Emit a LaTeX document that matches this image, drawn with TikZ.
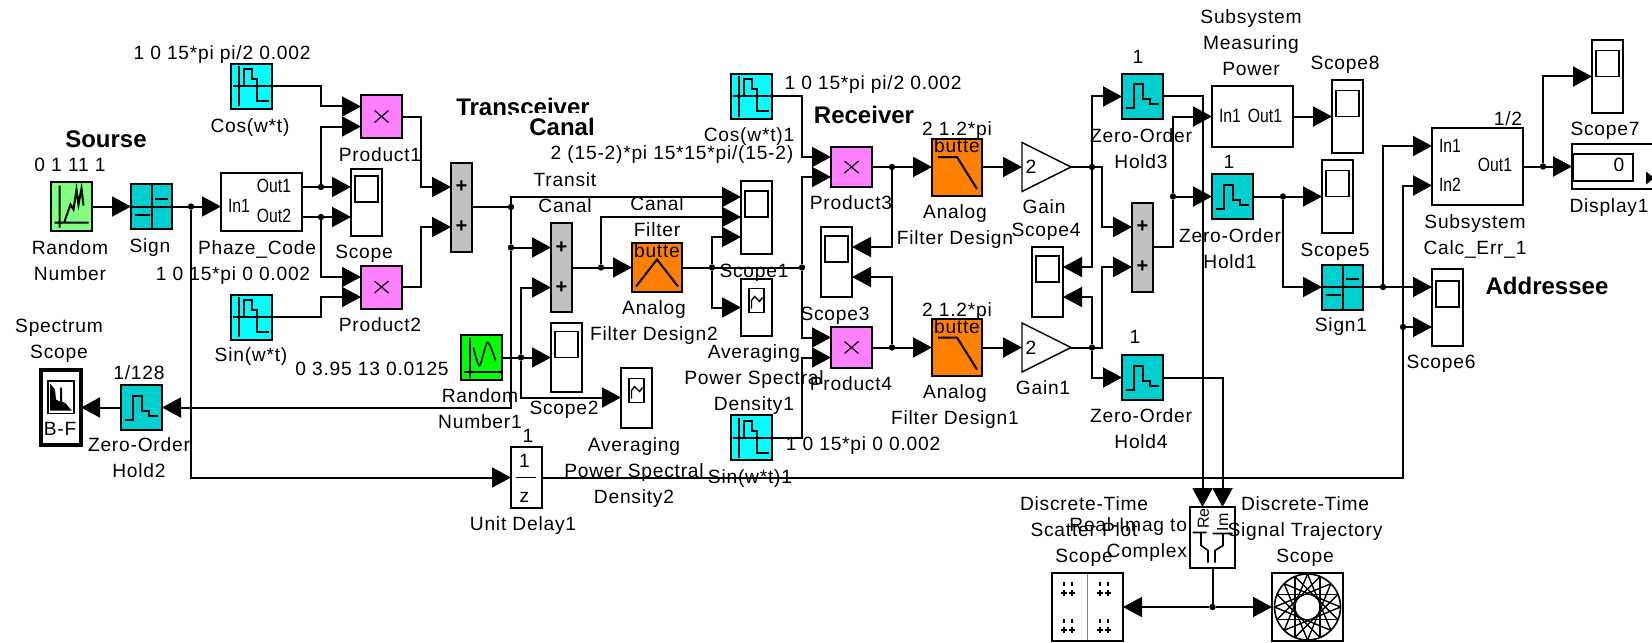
\documentclass[tikz,border=0pt]{standalone}
\usepackage{fontspec}
\setmainfont{Liberation Sans}
\newfontfamily\portfont[FakeStretch=0.82]{Liberation Sans}
\usetikzlibrary{arrows.meta,calc,shapes.geometric}
\definecolor{simcyan}{RGB}{0,255,255}
\definecolor{simteal}{RGB}{0,207,207}
\definecolor{simpink}{RGB}{255,128,255}
\definecolor{simorange}{RGB}{255,128,0}
\definecolor{simlime}{RGB}{128,255,128}
\definecolor{simgreen}{RGB}{0,255,0}
\definecolor{simgray}{RGB}{192,192,192}
\newcommand{\lblfont}{\fontsize{9.6}{13}\selectfont\addfontfeature{LetterSpace=4}}
\newcommand{\headfont}{\fontsize{12}{14}\selectfont\bfseries}
\tikzset{
  wire/.style={line width=1pt},
  sig/.style={line width=1pt, -{Triangle[length=9.5pt,width=10pt]}},
  jdot/.style={circle, fill=black, minimum size=3.2pt, inner sep=0pt, outer sep=0pt},
  lbl/.style={font=\lblfont, align=center, inner sep=0pt, outer sep=0pt, text depth=0pt},
  portlbl/.style={font=\portfont\fontsize{9.6}{13}\selectfont, inner sep=0pt, outer sep=0pt, text depth=0pt},
  head/.style={font=\headfont, inner sep=0pt, outer sep=0pt, text depth=0pt},
  simblock/.style={draw, line width=1pt, inner sep=0pt, outer sep=0pt, minimum width=20.5pt, minimum height=22.5pt},
  wavesrc/.style={simblock, fill=simcyan, path picture={
    \draw[line width=1pt, shift={(path picture bounding box.center)}]
      (-13,-20)--(-13,20) (-19,0)--(21,0) (-8,0)--(-8,-17)--(0,-17)--(0,-7)--(5,-7)--(5,15)--(17,15);}},
  zohblock/.style={simblock, fill=simteal, path picture={
    \draw[line width=1pt, shift={(path picture bounding box.center)}]
      (-17,12)--(-9,12)--(-9,-12)--(0,-12)--(0,3)--(7,3)--(7,8)--(16,8);}},
  signblock/.style={simblock, fill=simteal, path picture={
    \draw[line width=1pt, shift={(path picture bounding box.center)}]
      (0,-23)--(0,23) (-21,0)--(21,0) (3,-8)--(16,-8) (-17,8)--(-2,8);}},
  prodblock/.style={simblock, fill=simpink, minimum height=21.5pt, path picture={
    \draw[line width=.6pt, shift={(path picture bounding box.center)}] (-7,-6)--(7,6) (-7,6)--(7,-6);}},
  sumblock/.style={simblock, fill=simgray, minimum width=10.5pt, minimum height=44.5pt, path picture={
    \node[font=\fontsize{10}{10}\selectfont\bfseries, inner sep=0pt] at ($(path picture bounding box.center)+(0,-20)$) {+};
    \node[font=\fontsize{10}{10}\selectfont\bfseries, inner sep=0pt] at ($(path picture bounding box.center)+(0,20)$) {+};}},
  scopeblock/.style={simblock, fill=white, minimum width=15.5pt, minimum height=36.5pt, path picture={
    \draw[line width=.8pt, shift={(path picture bounding box.center)}] (-11.5,-26) rectangle (11.5,0);}},
  psdblock/.style={simblock, fill=white, minimum width=15.5pt, minimum height=30pt, path picture={
    \draw[line width=.8pt, shift={(path picture bounding box.center)}] (-7.5,-19) rectangle (7.5,5);
    \draw[line width=.7pt, shift={(path picture bounding box.center)}]
      (-5,-8)--(-5,1) (-5,-7)--(-2,-11)--(1,-8)--(3,-6)--(6,-10);}},
  lowpass/.style={simblock, fill=simorange, minimum width=25pt, minimum height=28.5pt, path picture={
    \node[lbl] at ($(path picture bounding box.center)+(0,-21)$) {butte};
    \draw[line width=1pt, shift={(path picture bounding box.center)}] (-19,-10)--(0,-10)--(20,22);}},
  bandpass/.style={simblock, fill=simorange, minimum width=25pt, minimum height=24.5pt, path picture={
    \node[lbl] at ($(path picture bounding box.center)+(0,-17)$) {butte};
    \draw[line width=1pt, shift={(path picture bounding box.center)}] (-21,19)--(0,-8)--(21,19);}},
  gainblock/.style={isosceles triangle, isosceles triangle stretches, shape border rotate=0, draw, line width=.7pt,
    minimum width=24.5pt, minimum height=24.5pt, inner sep=0pt, outer sep=0pt, anchor=lower side}
}
\begin{document}
\begin{tikzpicture}[x=0.5pt,y=-0.5pt]
  \path[use as bounding box, clip] (0,0) rectangle (1652,642);

  % sourse and transmitter
  \node[simblock, fill=simlime, minimum height=24.5pt, path picture={
    \draw[line width=1pt, shift={(path picture bounding box.center)}]
      (-12,-21)--(-12,21) (-17,16)--(17,16) (-7,15)--(-1,-2)--(2,3)--(5,-17)--(7,-2)--(10,-18)--(12,-1);}] (rn) at (71.5,206.5) {};
  \node[signblock] (sgn) at (151.5,206.5) {};
  \node[simblock, fill=white, minimum width=40.5pt, minimum height=29pt] (phz) at (261.5,202) {};
  \node[wavesrc] (cos) at (251.5,86.5) {};
  \node[wavesrc] (sin) at (251.5,317) {};
  \node[prodblock] (prod1) at (381.5,116.5) {};
  \node[prodblock] (prod2) at (381.5,287) {};
  \node[scopeblock, minimum height=33.5pt] (scope) at (366.5,202) {};
  \node[sumblock] (sum1) at (461.5,207) {};
  \node[jdot] (j1) at (191,206.5) {};
  \node[jdot] (j2) at (321,187) {};
  \node[jdot] (j3) at (321,217) {};

  % transceiver canal
  \node[jdot] (j4) at (511,207) {};
  \node[jdot] (j5) at (511,247.5) {};
  \node[sumblock] (sum2) at (561.5,267.5) {};
  \node[jdot] (j6) at (601,267.5) {};
  \node[bandpass] (flt2) at (657,267.5) {};
  \node[jdot] (j7) at (712,267.5) {};
  \node[jdot] (j8) at (802,267.5) {};
  \node[scopeblock] (scope1) at (756.5,217) {};
  \node[psdblock, minimum height=28.5pt] (psd1) at (756.5,307.5) {};
  \node[simblock, fill=simgreen, path picture={
    \draw[line width=1pt, shift={(path picture bounding box.center)}] (-12,-20)--(-12,20) (-18,14)--(19,14);
    \draw[line width=.8pt, shift={(path picture bounding box.center)}] plot[smooth] coordinates {(-8,-10) (-2,8) (6,-15) (14,3)};}] (rn1) at (481.5,357.5) {};
  \node[jdot] (j19) at (521,357.5) {};
  \node[scopeblock, minimum height=34.5pt] (scope2) at (566.5,357.5) {};
  \node[psdblock] (psd2) at (636.5,397.5) {};
  \node[simblock, fill=white, minimum width=15.5pt, minimum height=30.5pt, path picture={
    \node[lbl] at ($(path picture bounding box.center)+(-2,-17)$) {1};
    \draw[line width=.8pt, shift={(path picture bounding box.center)}] (-11,0)--(9,0);
    \node[lbl] at ($(path picture bounding box.center)+(-2,20)$) {z};}] (dly) at (526.5,477.5) {};
  \node[zohblock] (zoh2) at (141.5,407.5) {};
  \node[simblock, line width=2pt, fill=white, minimum width=20pt, minimum height=37.5pt, path picture={
    \draw[line width=.8pt, shift={(path picture bounding box.center)}] (-13,-26.5) rectangle (13,6);
    \fill[black, shift={(path picture bounding box.center)}] (-11,3)--(-11,-24)--(-6,-18)--(-5,-8)--(-1,-6)--(-1,-20)--(1,-20)--(1,-6)--(5,-4)--(8,0)--(11,3)--cycle;
    \node[lbl] at ($(path picture bounding box.center)+(-1,21)$) {B-F};}] (spec) at (61,407.5) {};

  % receiver
  \node[wavesrc] (cos1) at (751.5,96.5) {};
  \node[wavesrc] (sin1) at (751.5,437.5) {};
  \node[prodblock, minimum height=20pt] (prod3) at (851.5,167) {};
  \node[prodblock, minimum height=20.5pt] (prod4) at (851.5,347.5) {};
  \node[jdot] (j9) at (892,167) {};
  \node[jdot] (j10) at (892,347.5) {};
  \node[scopeblock, minimum height=35pt] (scope3) at (836.5,262) {};
  \node[lowpass] (flt) at (957,167) {};
  \node[lowpass] (flt1) at (957,347.5) {};
  \node[gainblock] (gain) at (1022,167) {};
  \node[gainblock] (gain1) at (1022,347.5) {};
  \node[jdot] (j11) at (1092,167) {};
  \node[jdot] (j12) at (1092,347.5) {};
  \node[zohblock] (zoh3) at (1142.5,96.5) {};
  \node[zohblock] (zoh4) at (1142.5,377.5) {};
  \node[scopeblock, minimum height=35pt] (scope4) at (1047.5,282) {};
  \node[sumblock] (sum3) at (1142.5,247) {};
  \node[jdot] (j13) at (1173,196.5) {};
  \node[zohblock] (zoh1) at (1232.5,196.5) {};
  \node[simblock, fill=white, minimum width=40.5pt, minimum height=30.5pt] (meas) at (1252.5,116.5) {};
  \node[scopeblock] (scope8) at (1347.5,116.5) {};
  \node[jdot] (j14) at (1283,196.5) {};
  \node[scopeblock] (scope5) at (1337.5,196.5) {};
  \node[signblock] (sgn1) at (1342.5,287) {};
  \node[jdot] (j15) at (1383,287) {};
  \node[jdot] (j17) at (1403,327) {};

  % addressee
  \node[simblock, fill=white, minimum width=45.5pt, minimum height=38.5pt] (calc) at (1477.5,166.5) {};
  \node[scopeblock, minimum height=38.5pt] (scope6) at (1447.5,307) {};
  \node[jdot] (j16) at (1543,166.5) {};
  \node[scopeblock] (scope7) at (1607.5,76.5) {};
  \node[simblock, fill=white, minimum width=50pt, minimum height=22.5pt, path picture={
    \draw[line width=1pt, shift={(path picture bounding box.center)}] (-49,-13) rectangle (11,14);
    \fill[black, shift={(path picture bounding box.center)}] (24,5)--(32,11.5)--(24,18)--cycle;}] (disp) at (1622,166.5) {};

  % real-imag block and its scopes
  \node[simblock, fill=white, minimum width=22.5pt, minimum height=30.5pt, path picture={
    \node[font=\fontsize{8}{8}\selectfont, inner sep=0pt, rotate=90] at ($(path picture bounding box.center)+(-9,-19)$) {Re};
    \node[font=\fontsize{8}{8}\selectfont, inner sep=0pt, rotate=90] at ($(path picture bounding box.center)+(10,-15)$) {Im};
    \draw[line width=.8pt, shift={(path picture bounding box.center)}]
      (-20,-5)--(-6,-5) (-11.5,-5)--(-11.5,8)--(-4.5,13)--(-4.5,25) (0,-4)--(20,-4) (10.5,-4)--(10.5,8)--(2.5,13)--(2.5,25);}] (ri) at (1212.5,537.5) {};
  \node[jdot] (j18) at (1212.5,607) {};
  \node[simblock, fill=white, minimum width=35.5pt, minimum height=34pt, path picture={
    \draw[line width=.7pt, gray, shift={(path picture bounding box.center)}] (0,-34)--(0,34);
    \foreach \cx in {-19.5,16.5} \foreach \cy in {-18,19}
      \draw[line width=.8pt, shift={(path picture bounding box.center)}]
        (\cx-7,\cy+4)--(\cx-1,\cy+4) (\cx+1,\cy+4)--(\cx+7,\cy+4) (\cx-4,\cy+1)--(\cx-4,\cy+7) (\cx+4,\cy+1)--(\cx+4,\cy+7)
        (\cx-4,\cy-7)--(\cx-4,\cy-3) (\cx+4,\cy-7)--(\cx+4,\cy-3);}] (scat) at (1087.5,607) {};
  \node[simblock, fill=white, minimum width=35.5pt, minimum height=34pt, path picture={
    \draw[line width=.8pt, shift={(path picture bounding box.center)}] (0,0) circle[radius=33];
    \foreach \a in {0,22.5,...,337.5}
      \draw[line width=.7pt, shift={(path picture bounding box.center)}] (\a:33) -- (\a+135:33);}] (traj) at (1307.5,607) {};

  % connectors
  \draw[sig] (rn.east) -- (sgn.west);
  \draw[wire] (sgn.east) -- (j1);
  \draw[sig] (j1) -- ($(phz.west)+(0,4.5)$);
  \draw[sig] (j1) |- (dly.west);
  \draw[wire] ($(phz.east)+(0,-15)$) -- (j2);
  \draw[wire] ($(phz.east)+(0,15)$) -- (j3);
  \draw[sig] (j2) -- ($(scope.west)+(0,-15)$);
  \draw[sig] (j3) -- ($(scope.west)+(0,15)$);
  \draw[sig] (j2) |- ($(prod1.west)+(0,10)$);
  \draw[sig] (j3) |- ($(prod2.west)+(0,-10)$);
  \draw[sig] (cos.east) -- ++(49,0) |- ($(prod1.west)+(0,-10)$);
  \draw[sig] (sin.east) -- ++(49,0) |- ($(prod2.west)+(0,10)$);
  \draw[sig] (prod1.east) -- ++(19,0) |- ($(sum1.west)+(0,-20)$);
  \draw[sig] (prod2.east) -- ++(19,0) |- ($(sum1.west)+(0,20)$);
  \draw[wire] (sum1.east) -- (j4);
  \draw[sig] (j4) |- ($(scope1.west)+(0,-20)$);
  \draw[wire] (j4) -- (j5);
  \draw[sig] (j5) -- ($(sum2.west)+(0,-20)$);
  \draw[sig] (j5) |- (zoh2.east);
  \draw[sig] (zoh2.west) -- (spec.east);
  \draw[wire] (rn1.east) -- (j19);
  \draw[sig] (j19) -- (scope2.west);
  \draw[sig] (j19) |- (psd2.west);
  \draw[sig] (j19) |- ($(sum2.west)+(0,20)$);
  \draw[wire] (sum2.east) -- (j6);
  \draw[sig] (j6) -- (flt2.west);
  \draw[sig] (j6) |- (scope1.west);
  \draw[wire] (flt2.east) -- (j7) -- (j8);
  \draw[sig] (j7) |- ($(scope1.west)+(0,20)$);
  \draw[sig] (j7) |- (psd1.west);
  \draw[sig] (j8) |- ($(prod3.west)+(0,10)$);
  \draw[sig] (j8) |- ($(prod4.west)+(0,-10)$);
  \draw[sig] (cos1.east) -- ++(30,0) |- ($(prod3.west)+(0,-10)$);
  \draw[sig] (sin1.east) -- ++(30,0) |- ($(prod4.west)+(0,10)$);
  \draw[wire] (prod3.east) -- (j9);
  \draw[wire] (prod4.east) -- (j10);
  \draw[sig] (j9) |- ($(scope3.east)+(0,-15)$);
  \draw[sig] (j10) |- ($(scope3.east)+(0,15)$);
  \draw[sig] (j9) -- (flt.west);
  \draw[sig] (j10) -- (flt1.west);
  \draw[sig] (flt.east) -- (gain.lower side);
  \draw[sig] (flt1.east) -- (gain1.lower side);
  \draw[wire] (gain.apex) -- (j11);
  \draw[wire] (gain1.apex) -- (j12);
  \draw[sig] (j11) |- (zoh3.west);
  \draw[sig] (j11) |- ($(scope4.east)+(0,-15)$);
  \draw[sig] (j11) -- ++(10,0) |- ($(sum3.west)+(0,-20)$);
  \draw[sig] (j12) |- ($(scope4.east)+(0,15)$);
  \draw[sig] (j12) |- (zoh4.west);
  \draw[sig] (j12) -- ++(10,0) |- ($(sum3.west)+(0,20)$);
  \draw[wire] (sum3.east) -| (j13);
  \draw[sig] (j13) -- (zoh1.west);
  \draw[sig] (j13) |- (meas.west);
  \draw[sig] (meas.east) -- (scope8.west);
  \draw[wire] (zoh1.east) -- (j14);
  \draw[sig] (j14) -- (scope5.west);
  \draw[sig] (j14) |- (sgn1.west);
  \draw[wire] (sgn1.east) -- (j15);
  \draw[sig] (j15) -- ($(scope6.west)+(0,-20)$);
  \draw[sig] (j15) |- ($(calc.west)+(0,-20.5)$);
  \draw[wire] (dly.east) -| (j17);
  \draw[sig] (j17) -- ($(scope6.west)+(0,20)$);
  \draw[sig] (j17) |- ($(calc.west)+(0,19)$);
  \draw[wire] (calc.east) -- (j16);
  \draw[sig] (j16) -- (disp.west);
  \draw[sig] (j16) |- (scope7.west);
  \draw[sig] (zoh3.east) -| ($(ri.north)+(-10,0)$);
  \draw[sig] (zoh4.east) -| ($(ri.north)+(10,0)$);
  \draw[wire] (ri.south) -- (j18);
  \draw[sig] (j18) -- (scat.east);
  \draw[sig] (j18) -- (traj.west);

  % heads
  \node[head] (hSrc) at (106,139) {Sourse};
  \node[head] (hTrans) at (523,107) {Transceiver};
  \node[head, fill=white, inner xsep=8.5pt, inner ysep=2.5pt] (hCanal) at (562,127) {Canal};
  \node[head] (hRecv) at (864,115) {Receiver};
  \node[head] (hAddr) at (1547,286) {Addressee};

  % labels
  \node[lbl] (lCosP) at (222,53) {1 0 15*pi pi/2 0.002};
  \node[lbl] (lCos) at (250,126) {Cos(w*t)};
  \node[lbl] (lProd1) at (380,155) {Product1};
  \node[lbl] (lRnP) at (70,165) {0 1 11 1};
  \node[lbl] (lRn) at (70,261) {Random\\Number};
  \node[lbl] (lSgn) at (150,246) {Sign};
  \node[lbl] (lPhz) at (257,248) {Phaze\_Code};
  \node[portlbl] (lPhzIn) at (239,206) {In1};
  \node[portlbl] (lPhzA) at (274,186) {Out1};
  \node[portlbl] (lPhzB) at (274,216) {Out2};
  \node[lbl] (lScope) at (364,252) {Scope};
  \node[lbl] (lSinP) at (233,274) {1 0 15*pi 0 0.002};
  \node[lbl] (lProd2) at (380,325) {Product2};
  \node[lbl] (lSin) at (251,355) {Sin(w*t)};
  \node[lbl] (lSpec) at (59,339) {Spectrum\\Scope};
  \node[lbl] (lZoh2P) at (139,373) {1/128};
  \node[lbl] (lZoh2) at (139,457.5) {Zero-Order\\Hold2};
  \node[lbl] (lRn1P) at (372,369) {0 3.95 13 0.0125};
  \node[lbl] (lRn1) at (480,409) {Random\\Number1};
  \node[lbl] (lDlyP) at (528,436) {1};
  \node[lbl] (lDly) at (523,524) {Unit Delay1};
  \node[lbl] (lFlt2P) at (672,153) {2 (15-2)*pi 15*15*pi/(15-2)};
  \node[lbl] (lTrans) at (565,192.5) {Transit\\Canal};
  \node[lbl] (lCf) at (657,217) {Canal\\Filter};
  \node[lbl] (lScope1) at (754,271) {Scope1};
  \node[lbl] (lFlt2) at (654,320.5) {Analog\\Filter Design2};
  \node[lbl] (lScope2) at (564,408) {Scope2};
  \node[lbl] (lPsd2) at (634,470.5) {Averaging\\Power Spectral\\Density2};
  \node[lbl] (lPsd1) at (754,378) {Averaging\\Power Spectral\\Density1};
  \node[lbl] (lCos1P) at (873,83) {1 0 15*pi pi/2 0.002};
  \node[lbl] (lCos1) at (749,135) {Cos(w*t)1};
  \node[lbl] (lProd3) at (851,203) {Product3};
  \node[lbl] (lFltP) at (957,129) {2 1.2*pi};
  \node[lbl] (lFlt) at (955,224.5) {Analog\\Filter Design};
  \node[lbl] (lScope3) at (835,314) {Scope3};
  \node[lbl] (lProd4) at (851,384) {Product4};
  \node[lbl] (lFlt1P) at (957,310) {2 1.2*pi};
  \node[lbl] (lFlt1) at (955,405) {Analog\\Filter Design1};
  \node[lbl] (lSin1) at (750,477) {Sin(w*t)1};
  \node[lbl] (lSin1P) at (863,444) {1 0 15*pi 0 0.002};
  \node[lbl] (lGainV) at (1031,167) {2};
  \node[lbl] (lGain1V) at (1031,347.5) {2};
  \node[lbl] (lGain) at (1044,207) {Gain};
  \node[lbl] (lScope4) at (1046,230) {Scope4};
  \node[lbl] (lGain1) at (1043,388) {Gain1};
  \node[lbl] (lZoh3P) at (1138,57) {1};
  \node[lbl] (lZoh3) at (1141,148.5) {Zero-Order\\Hold3};
  \node[lbl] (lMeas) at (1251,43) {Subsystem\\Measuring\\Power};
  \node[portlbl] (lMeasIn) at (1230,116) {In1};
  \node[portlbl] (lMeasOut) at (1265,116) {Out1};
  \node[lbl] (lScope8) at (1345,63) {Scope8};
  \node[lbl] (lZoh1P) at (1229,162) {1};
  \node[lbl] (lZoh1) at (1230,249) {Zero-Order\\Hold1};
  \node[lbl] (lScope5) at (1335,250) {Scope5};
  \node[lbl] (lSgn1) at (1341,325) {Sign1};
  \node[lbl] (lScope6) at (1441,362) {Scope6};
  \node[lbl] (lCalcP) at (1508,119) {1/2};
  \node[portlbl] (lCalcA) at (1450,146) {In1};
  \node[portlbl] (lCalcB) at (1450,185) {In2};
  \node[portlbl] (lCalcOut) at (1495,165) {Out1};
  \node[lbl] (lCalc) at (1475,235) {Subsystem\\Calc\_Err\_1};
  \node[lbl] (lScope7) at (1605,129) {Scope7};
  \node[lbl] (lDispV) at (1619,165) {0};
  \node[lbl] (lDisp) at (1609,206) {Display1};
  \node[lbl] (lZoh4P) at (1135,337) {1};
  \node[lbl] (lZoh4) at (1141,429) {Zero-Order\\Hold4};
  \node[lbl, anchor=east, align=right] (lRi) at (1187,537.5) {Real-Imag to\\Complex};
  \node[lbl] (lScat) at (1084,530) {Discrete-Time\\Scatter Plot\\Scope};
  \node[lbl] (lTraj) at (1305,530) {Discrete-Time\\Signal Trajectory\\Scope};
\end{tikzpicture}
\end{document}
